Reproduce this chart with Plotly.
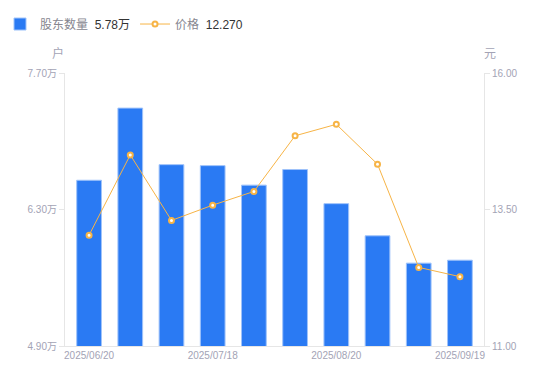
import plotly.graph_objects as go

dates = ["2025/06/20", "2025/06/30", "2025/07/10", "2025/07/18", "2025/07/31",
         "2025/08/10", "2025/08/20", "2025/08/31", "2025/09/10", "2025/09/19"]
holders_wan = [6.60, 7.34, 6.76, 6.75, 6.55, 6.71, 6.36, 6.03, 5.75, 5.78]
price = [13.03, 14.50, 13.30, 13.58, 13.83, 14.85, 15.06, 14.33, 12.44, 12.27]

xtick_labels = ["2025/06/20", "2025/07/18", "2025/08/20", "2025/09/19"]
left_ticks = [4.90, 6.30, 7.70]
left_tick_text = ["4.90万", "6.30万", "7.70万"]
right_ticks = [11.00, 13.50, 16.00]
right_tick_text = ["11.00", "13.50", "16.00"]

FONT = "Liberation Sans, Noto Sans CJK SC, sans-serif"
GRAY = "#a3a3b5"
LINE = "#e6e6e6"
BLUE = "#2a7af3"
ORANGE = "#f7b446"

fig = go.Figure()
fig.add_trace(go.Bar(
    x=dates, y=holders_wan,
    name='股东数量  <span style="color:#333333">5.78万</span>',
    marker=dict(color=BLUE, line=dict(color="#9fc3fa", width=1)),
    yaxis="y", hoverinfo="skip",
))
fig.add_trace(go.Scatter(
    x=dates, y=price,
    name='价格  <span style="color:#333333">12.270</span>',
    mode="lines+markers",
    line=dict(color=ORANGE, width=1),
    marker=dict(symbol="circle", size=5, color="white", line=dict(color=ORANGE, width=2)),
    yaxis="y2", hoverinfo="skip",
))

fig.update_layout(
    width=550, height=381,
    margin=dict(l=65, r=66, t=73, b=35, autoexpand=False),
    paper_bgcolor="white", plot_bgcolor="white",
    font=dict(family=FONT, size=10, color=GRAY),
    bargap=0.40,
    showlegend=True,
    legend=dict(
        orientation="h", xref="container", yref="container",
        x=0.0, y=0.975, xanchor="left", yanchor="top",
        font=dict(size=12, color="#86868f"),
        itemwidth=30,
    ),
    xaxis=dict(
        type="category", automargin=False,
        tickmode="array", tickvals=xtick_labels, ticktext=xtick_labels,
        showline=True, linecolor=LINE, linewidth=1,
        showgrid=False, ticks="", zeroline=False,
        tickfont=dict(size=10, color=GRAY),
    ),
    yaxis=dict(
        range=[4.90, 7.70], tickmode="array", tickvals=left_ticks, ticktext=left_tick_text,
        automargin=False,
        showline=True, linecolor=LINE, linewidth=1,
        ticks="outside", ticklen=5, tickcolor=LINE,
        showgrid=False, zeroline=False,
        tickfont=dict(size=10, color=GRAY),
    ),
    yaxis2=dict(
        range=[11.00, 16.00], tickmode="array", tickvals=right_ticks, ticktext=right_tick_text,
        overlaying="y", side="right", automargin=False,
        showline=True, linecolor=LINE, linewidth=1,
        ticks="outside", ticklen=5, tickcolor=LINE,
        showgrid=False, zeroline=False,
        tickfont=dict(size=10, color=GRAY),
    ),
    annotations=[
        dict(text="户", x=0, y=1, xref="paper", yref="paper", xanchor="center",
             yanchor="bottom", xshift=-7, yshift=10, showarrow=False,
             font=dict(size=12, color=GRAY)),
        dict(text="元", x=1, y=1, xref="paper", yref="paper", xanchor="center",
             yanchor="bottom", xshift=6, yshift=10, showarrow=False,
             font=dict(size=12, color=GRAY)),
    ],
)

fig.write_html("out.html", config={"displayModeBar": False},
               post_script="document.body.style.margin='0';")
